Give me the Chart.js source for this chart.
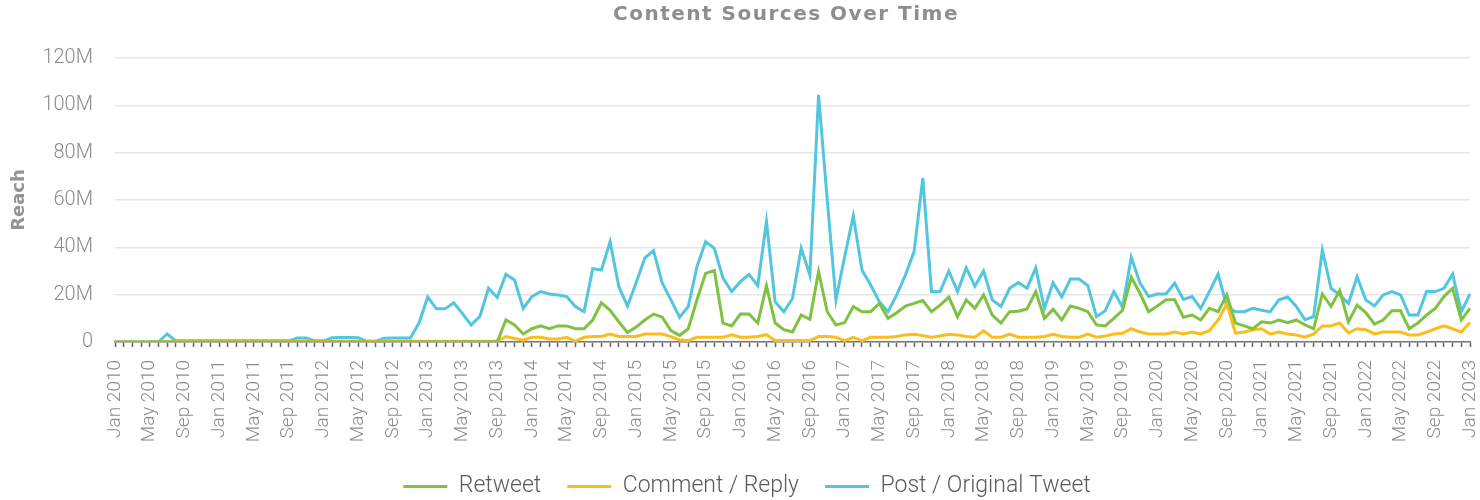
<!DOCTYPE html>
<html>
<head>
<meta charset="utf-8">
<script src="https://cdn.jsdelivr.net/npm/chart.js@4.4.1/dist/chart.umd.min.js"></script>
<style>
  html, body { margin: 0; padding: 0; background: #fff; }
  #wrap { width: 1480px; height: 500px; position: relative; }
</style>
</head>
<body>
<div id="wrap"><canvas id="chart"></canvas></div>
<script>
/* ---------- DATA (reach, millions) ---------- */
const monthNames = ["Jan", "Feb", "Mar", "Apr", "May", "Jun", "Jul", "Aug", "Sep", "Oct", "Nov", "Dec"];
const firstYear = 2010;
const lastYear = 2023; // series ends Jan 2023

let months = [];
for (let y = firstYear; y <= lastYear; y++) {
    monthNames.forEach(m => {
        if (y < lastYear || m === "Jan") months.push(m + " " + y);
    });
}

const retweet = [
    0, 0, 0, 0, 0, 0, 0, 0, 0, 0, 0, 0, 0, 0, 0, 0, 0, 0, 0, 0, 0, 0, 0, 0,
    0, 0, 0, 0, 0, 0, 0, 0, 0, 0, 0, 0, 0, 0, 0, 0, 0, 0, 0, 0, 0,
    9.3, 7.2, 3.4, 5.6, 6.8, 5.6, 6.8, 6.8, 5.6, 5.6,
    9.3, 16.6, 13.4, 8.5, 4, 6.3, 9.3, 11.8, 10.5, 4.8,
    2.8, 5.6, 17.8, 29, 30.2, 8, 6.8, 11.8, 11.8, 8,
    23.7, 8, 5.2, 4.2, 11.4, 9.6, 29.7, 12.8, 7.2, 8.2,
    15, 12.8, 12.8, 16.3, 10, 12.4, 15.2, 16.3, 17.5, 12.8,
    15.6, 19, 10.7, 17.8, 14.2, 19.9, 11.4, 8, 12.8, 13,
    14, 21.3, 10, 13.8, 9.3, 15.2, 14.2, 12.8, 7.2, 6.8,
    10, 13.4, 27.3, 20.6, 12.8, 15.2, 17.8, 17.8, 10.5, 11.4,
    9.3, 14.2, 12.8, 19.9, 8, 6.8, 5.6, 8.5, 8, 9.3,
    8.2, 9.3, 7.2, 5.6, 20.3, 15, 21.8, 8.5, 15.6, 12.4,
    7.6, 9.3, 13.2, 13.2, 5.6, 8, 11.4, 14.2, 19.2, 22.7,
    9.3, 14.2
];

const commentReply = [
    0, 0, 0, 0, 0, 0, 0.3, 0.3, 0.3, 0.3, 0.3, 0.3, 0.3, 0.3, 0.3, 0.3, 0.3, 0.3, 0.3, 0.3,
    0.3, 0.3, 0.3, 0.3, 0.3, 0.3, 0.3, 0.3, 0.3, 0.3, 0.3, 0.3, 0.3, 0.3, 0.3, 0.3, 0.3, 0.3, 0.3, 0.3,
    0.3, 0.3, 0.3, 0.3, 0.3,
    2.3, 1.5, 0.8, 2, 2, 1.3, 1.3, 2, 0.3, 2,
    2.3, 2.3, 3.4, 2.3, 2.3, 2.3, 3.4, 3.4, 3.4, 2.3,
    0.8, 0.6, 2, 2, 2, 2, 3, 2, 2, 2.3,
    3.1, 0.6, 0.6, 0.6, 0.6, 0.6, 2.3, 2.3, 2, 0.6,
    2, 0.6, 2, 2, 2, 2.3, 3, 3.3, 2.7, 2,
    2.5, 3.3, 3, 2.3, 2, 4.7, 2, 2, 3.3, 2,
    2, 2, 2.3, 3.3, 2.3, 2, 2, 3.3, 2, 2.5,
    3.4, 3.7, 5.6, 4.2, 3.4, 3.4, 3.4, 4.2, 3.4, 4.2,
    3.4, 4.8, 9.3, 16, 3.8, 4.2, 5.2, 5.6, 3.4, 4.2,
    3.4, 3, 2, 3.4, 6.8, 6.8, 8, 3.8, 5.6, 5.2,
    3.4, 4.2, 4.2, 4.2, 3, 3, 4.2, 5.6, 6.8, 5.6,
    4.2, 8.2
];

const postOriginal = [
    0, 0, 0, 0, 0, 0, 3.4, 0.5, 0.5, 0.5, 0.5, 0.5, 0.5, 0.5, 0.5, 0.5, 0.5, 0.5, 0.5, 0.5,
    0.5, 1.7, 1.7, 0.5, 0.5, 1.8, 1.9, 1.9, 1.8, 0.3, 0.3, 1.6, 1.7, 1.7, 1.7,
    8, 19, 14, 14, 16.6, 12, 7.2, 10.7, 22.7, 18.8,
    28.6, 26.2, 14.2, 19.2, 21.3, 20.3, 19.9, 19.2, 15, 12.8,
    31, 30.4, 42.4, 23.4, 15.2, 25, 35.5, 38.6, 25, 17.8,
    10.5, 15, 31.8, 42.4, 39.6, 27, 21.3, 25.5, 28.6, 23.8,
    50.9, 17, 12.8, 18.4, 39.6, 28.3, 104.4, 60, 17.8, 36,
    53.3, 30.4, 24.1, 17, 12.8, 19.9, 28.3, 38.2, 69.2, 21.3,
    21.3, 30, 21.3, 31.3, 23.6, 30, 17.8, 15, 22.7, 25.1,
    22.7, 31.3, 14.2, 25, 19.1, 26.6, 26.6, 23.8, 10.7, 13.2,
    21.3, 14.7, 35.8, 25, 19.2, 20.3, 20.3, 24.8, 18, 19.2,
    14.2, 21.3, 28.7, 15, 12.8, 12.8, 14.2, 13.4, 12.8, 17.8,
    19, 15, 9.4, 10.7, 38.9, 22.7, 19.9, 16.3, 27.6, 17.8,
    15.2, 19.9, 21.3, 19.9, 11.4, 11.4, 21.3, 21.3, 22.7, 28.7,
    12.8, 20.3
];

const seriesNames = ["Retweet", "Comment / Reply", "Post / Original Tweet"];
const seriesColors = ["#7fc241", "#fbbd19", "#52c6df"];
const chartTitle = "Content Sources Over Time";

/* ---------- TITLE WITH LETTER SPACING ---------- */
const spacedTitle = {
    id: "spacedTitle",
    afterLayout(chart) {
        // legend sits a little right of the canvas centre in the original
        chart.legend.left += 12;
        chart.legend.right += 12;
    },
    afterDraw(chart) {
        let ctx = chart.ctx;
        ctx.save();
        ctx.font = "bold 20px 'DejaVu Sans'";
        ctx.fillStyle = "#8e8e8e";
        ctx.textAlign = "center";
        ctx.textBaseline = "middle";
        ctx.letterSpacing = "1.5px";
        ctx.fillText(chartTitle, 786, 15);
        ctx.restore();
    }
};

/* ---------- CHART ---------- */
let ctx = document.getElementById("chart").getContext("2d");

let chart = new Chart(ctx, {
    type: "line",
    data: {
        labels: months,
        datasets: [retweet, commentReply, postOriginal].map((vals, i) => ({
            label: seriesNames[i],
            data: vals,
            borderColor: seriesColors[i],
            backgroundColor: seriesColors[i],
            borderWidth: 3,
            pointRadius: 0,
            tension: 0
        }))
    },
    options: {
        responsive: true,
        maintainAspectRatio: false,
        animation: false,
        layout: { padding: { top: 58, left: 0, right: 10, bottom: -8 } },
        plugins: {
            tooltip: { enabled: false },
            legend: {
                position: "bottom",
                labels: {
                    boxWidth: 44,
                    boxHeight: 3,
                    padding: 26,
                    color: "#5a5a5a",
                    font: { family: "Roboto", size: 23, weight: 300 },
                    generateLabels: (c) =>
                        Chart.defaults.plugins.legend.labels.generateLabels(c)
                            .map(l => ({ ...l, lineWidth: 0 }))
                }
            }
        },
        scales: {
            x: {
                grid: {
                    drawOnChartArea: false,
                    drawTicks: true,
                    tickLength: 5,
                    tickColor: "#666",
                    tickWidth: 1.5
                },
                border: { display: true, color: "#777", width: 1.5 },
                ticks: {
                    autoSkip: false,
                    minRotation: 90,
                    maxRotation: 90,
                    padding: 13,
                    color: "#8c8c8c",
                    font: { family: "Roboto", size: 19, weight: 300 },
                    callback: function (val, index) {
                        return index % 4 === 0 ? this.getLabelForValue(val) : "";
                    }
                },
                afterFit: (s) => {
                    s.height = 107;
                    s.paddingLeft = 0;
                    s.paddingRight = 0;
                }
            },
            y: {
                min: 0,
                max: 120,
                grid: { color: "#e6e6e6", lineWidth: 1.5, drawTicks: false },
                border: { display: false },
                ticks: {
                    stepSize: 20,
                    padding: 22,
                    color: "#8c8c8c",
                    font: { family: "Roboto", size: 20, weight: 300 },
                    callback: v => (v === 0 ? "0" : v + "M")
                },
                title: {
                    display: true,
                    text: "Reach",
                    color: "#939393",
                    font: { family: "DejaVu Sans", size: 18, weight: "bold" },
                    padding: { top: 9, bottom: 0 }
                },
                afterFit: (s) => { s.width = 115; }
            }
        }
    },
    plugins: [spacedTitle]
});
</script>
</body>
</html>
